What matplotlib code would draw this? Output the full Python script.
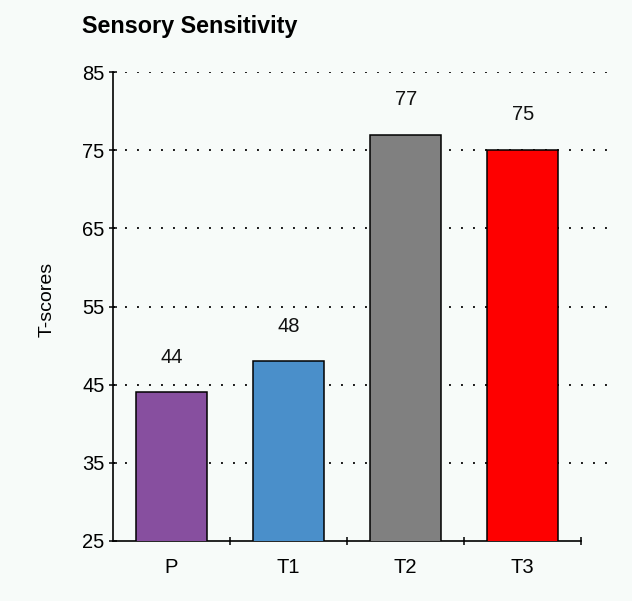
import numpy as np
import matplotlib.pyplot as plt

plt.rcParams['lines.scale_dashes'] = False
plt.rcParams['font.family'] = ['Liberation Sans', 'DejaVu Sans']

# data
categories = ['P', 'T1', 'T2', 'T3']
scores = [44, 48, 77, 75]
bar_colors = ['#874f9f', '#4a8fca', '#808080', '#fe0000']
yticks = [25, 35, 45, 55, 65, 75, 85]

bg = '#f7fbf9'
fig = plt.figure(figsize=(6.32, 6.01), dpi=100, facecolor=bg)
ax = fig.add_axes([113 / 632, 1 - 541 / 601, 494 / 632, 469 / 601])
ax.set_facecolor(bg)

x = np.arange(len(categories))
ax.bar(x, scores, width=0.61, color=bar_colors, edgecolor='black',
       linewidth=1.1, zorder=3)

for xi, v in zip(x, scores):
    ax.text(xi, v + 3.8, str(v), ha='center', va='baseline', fontsize=14.5,
            color='#111111')

ax.set_ylim(25, 85)
ax.set_xlim(-0.5, 3.72)
ax.set_yticks(yticks)

# dotted guide lines (none on the baseline)
for t in yticks[1:]:
    ax.axhline(t, linestyle=(0, (1.4, 7.24)), linewidth=1.4, color='#1a1a1a',
               zorder=0)

ax.set_xticks(x)
ax.set_xticklabels(categories, fontsize=14.5)
ax.tick_params(axis='x', length=0, pad=12)
ax.set_xticks(x + 0.5, minor=True)
ax.tick_params(axis='x', which='minor', direction='inout', length=6, width=1.1)
ax.tick_params(axis='y', direction='inout', length=6, width=1.1, labelsize=14.5, pad=3)

for s in ['top', 'right']:
    ax.spines[s].set_visible(False)
ax.spines['left'].set_linewidth(1.2)
ax.spines['bottom'].set_linewidth(1.2)
ax.spines['bottom'].set_bounds(-0.5, 3.5)

fig.text(47 / 632, 1 - 299 / 601, 'T-scores', fontsize=14, rotation=90,
         ha='center', va='center')
fig.text(82 / 632, 1 - 27 / 601, 'Sensory Sensitivity', fontsize=16.8,
         fontweight='bold', va='center', ha='left')

plt.savefig('out.png', dpi=100, facecolor=bg)
